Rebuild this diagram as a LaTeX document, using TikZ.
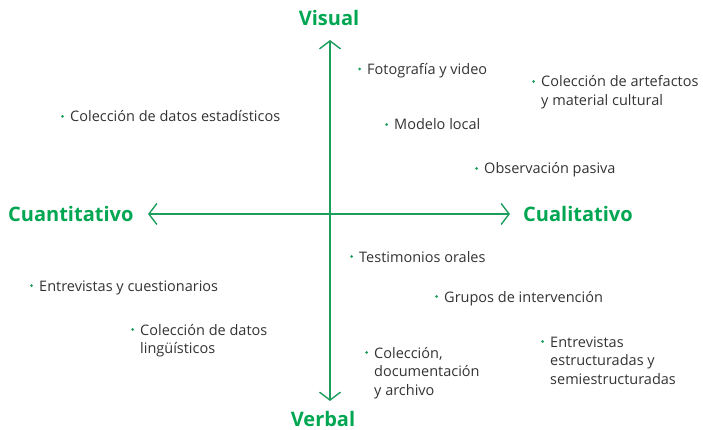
\documentclass[tikz,border=0pt]{standalone}
\usepackage{fontspec}
\setmainfont{Open Sans}
\usetikzlibrary{arrows.meta}
\definecolor{axgreen}{HTML}{1E9E5C}
\definecolor{lblgreen}{HTML}{00A651}
\definecolor{txt}{HTML}{333333}
\tikzset{
  tipb/.tip={Straight Barb[length=8pt,width=21pt,line width=1.4pt]},
  axis/.style={draw=axgreen, line width=1.6pt, tipb-tipb},
  pole/.style={text=lblgreen, font=\fontsize{20}{22}\selectfont\bfseries, inner sep=0pt, anchor=base},
  item/.style={text=txt, font=\fontsize{14.5}{18.5}\selectfont, align=left, anchor=base west, inner sep=0pt},
  bul/.style={fill=axgreen, circle, inner sep=0pt, minimum size=3pt}
}
\begin{document}
\begin{tikzpicture}[x=1pt,y=-1pt]
\useasboundingbox (0,0) rectangle (703,430);
% axes
\coordinate (top) at (330,40);
\coordinate (bot) at (330,401);
\coordinate (lft) at (148,214);
\coordinate (rgt) at (510,214);
\draw[axis] (bot) -- (top);
\draw[axis] (lft) -- (rgt);
% pole labels
\node[pole] (vis) at (329,26) {Visual};
\node[pole, anchor=base west] (cuan) at (8,222) {Cuantitativo};
\node[pole, anchor=base west] (cual) at (523,222) {Cualitativo};
\node[pole] (verb) at (323,426.5) {Verbal};
% items (anchor = baseline of the last line)
\node[item] (foto) at (367,74.5) {Fotografía y video};
\node[item] (arte) at (541,105.5) {Colección de artefactos\\y material cultural};
\node[item] (esta) at (70,122) {Colección de datos estadísticos};
\node[item] (mode) at (394,130) {Modelo local};
\node[item] (obse) at (484,174) {Observación pasiva};
\node[item] (test) at (359,262) {Testimonios orales};
\node[item] (entr) at (39,291) {Entrevistas y cuestionarios};
\node[item] (grup) at (444,302) {Grupos de intervención};
\node[item] (ling) at (140,353.5) {Colección de datos\\lingüísticos};
\node[item] (docu) at (374,395) {Colección,\\documentación\\y archivo};
\node[item] (estr) at (550,384) {Entrevistas\\estructuradas y\\semiestructuradas};
% bullets (beside the first line)
\foreach \n in {foto,esta,mode,obse,test,entr,grup}
  \node[bul] (b\n) at ([xshift=-7.5pt,yshift=5.5pt]\n.base west) {};
\foreach \n in {arte,ling}
  \node[bul] (b\n) at ([xshift=-7.5pt,yshift=24pt]\n.base west) {};
\foreach \n in {docu,estr}
  \node[bul] (b\n) at ([xshift=-7.5pt,yshift=42.5pt]\n.base west) {};
\end{tikzpicture}
\end{document}
